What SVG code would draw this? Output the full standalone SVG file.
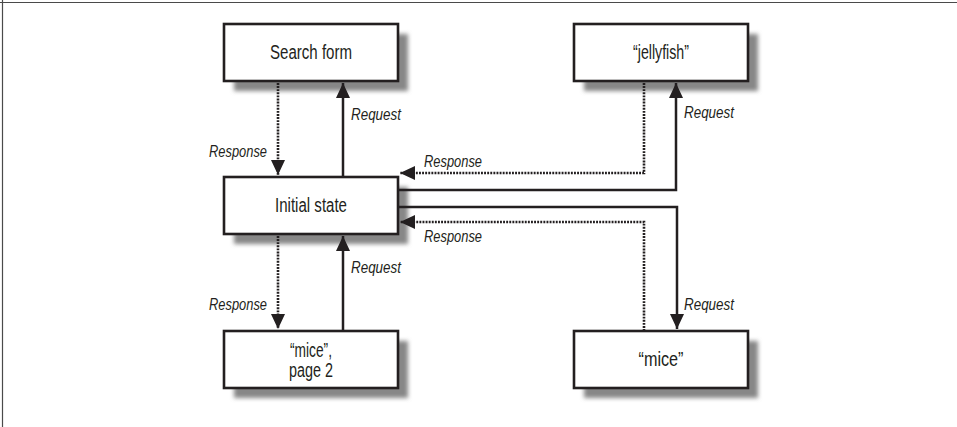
<svg xmlns="http://www.w3.org/2000/svg" width="957" height="427" viewBox="0 0 957 427">
<style>
.box{fill:#fff;stroke:#231f20;stroke-width:2.6}
.shadow{fill:#878787;filter:url(#blur)}
.lbl{font-family:"Liberation Sans Narrow","Liberation Sans",sans-serif;font-size:19.5px;fill:#231f20;text-anchor:middle}
.tag{font-family:"Liberation Sans Narrow","Liberation Sans",sans-serif;font-size:16.5px;font-style:italic;fill:#231f20}
.solid{fill:none;stroke:#231f20;stroke-width:2.5;marker-end:url(#arr)}
.dot{fill:none;stroke:#231f20;stroke-width:2.6;stroke-dasharray:1.9 1.2;marker-end:url(#arr)}
</style>
<defs>
<filter id="blur" x="-10%" y="-20%" width="120%" height="140%"><feGaussianBlur stdDeviation="2"/></filter>
<marker id="arr" markerUnits="userSpaceOnUse" markerWidth="15" markerHeight="14" refX="15" refY="7" orient="auto"><path d="M0,0 L15,7 L0,14 Z" fill="#231f20"/></marker>
</defs>
<rect width="957" height="427" fill="#fff"/>
<path d="M0,2.5 H957 M2.5,0 V427" fill="none" stroke="#4a4a4a" stroke-width="1.2"/>
<g id="search">
<rect class="shadow" x="234" y="34" width="174" height="57"/>
<rect class="box" x="224" y="24" width="174" height="57"/>
<text class="lbl" x="311" y="59" textLength="82" lengthAdjust="spacingAndGlyphs">Search  form</text>
</g>
<g id="jellyfish">
<rect class="shadow" x="584" y="34" width="174" height="57"/>
<rect class="box" x="574" y="24" width="174" height="57"/>
<text class="lbl" x="661" y="59" textLength="56" lengthAdjust="spacingAndGlyphs">“jellyfish”</text>
</g>
<g id="initial">
<rect class="shadow" x="234" y="187" width="174" height="57"/>
<rect class="box" x="224" y="177" width="174" height="57"/>
<text class="lbl" x="311" y="212" textLength="72" lengthAdjust="spacingAndGlyphs">Initial state</text>
</g>
<g id="micep2">
<rect class="shadow" x="234" y="341" width="174" height="57"/>
<rect class="box" x="224" y="331" width="174" height="57"/>
<text class="lbl" x="311" y="357" textLength="42" lengthAdjust="spacingAndGlyphs">“mice”,</text>
<text class="lbl" x="311" y="377" textLength="44" lengthAdjust="spacingAndGlyphs">page 2</text>
</g>
<g id="mice">
<rect class="shadow" x="584" y="341" width="174" height="57"/>
<rect class="box" x="574" y="331" width="174" height="57"/>
<text class="lbl" x="661" y="366" textLength="45" lengthAdjust="spacingAndGlyphs">“mice”</text>
</g>
<g id="connectors">
<path class="dot" d="M278,83 V175"/>
<path class="solid" d="M343,177 V83"/>
<path class="dot" d="M278,236 V329"/>
<path class="solid" d="M343,331 V236"/>
<path class="dot" d="M644,83 V173 H400"/>
<path class="solid" d="M398,190 H676 V83"/>
<path class="solid" d="M398,207 H677 V329"/>
<path class="dot" d="M644,331 V222 H400"/>
<text class="tag" x="267" y="157" text-anchor="end" textLength="58" lengthAdjust="spacingAndGlyphs">Response</text>
<text class="tag" x="351" y="120" textLength="50" lengthAdjust="spacingAndGlyphs">Request</text>
<text class="tag" x="267" y="310" text-anchor="end" textLength="58" lengthAdjust="spacingAndGlyphs">Response</text>
<text class="tag" x="351" y="273" textLength="50" lengthAdjust="spacingAndGlyphs">Request</text>
<text class="tag" x="424" y="167" textLength="58" lengthAdjust="spacingAndGlyphs">Response</text>
<text class="tag" x="684" y="118" textLength="50" lengthAdjust="spacingAndGlyphs">Request</text>
<text class="tag" x="684" y="310" textLength="50" lengthAdjust="spacingAndGlyphs">Request</text>
<text class="tag" x="424" y="242" textLength="58" lengthAdjust="spacingAndGlyphs">Response</text>
</g>
</svg>
